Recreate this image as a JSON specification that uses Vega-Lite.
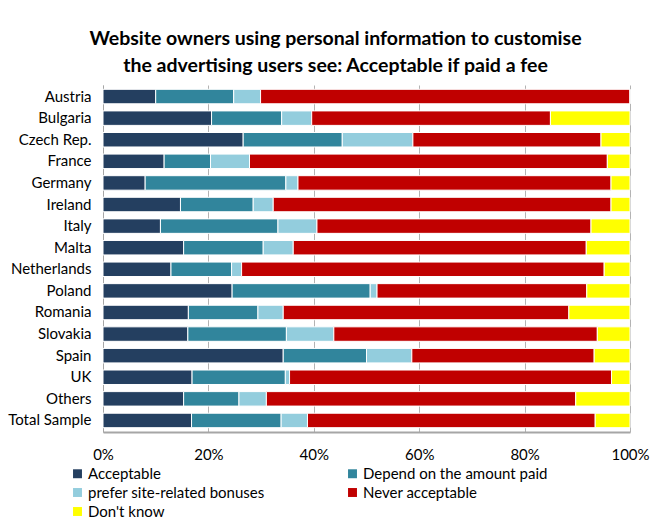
{
  "$schema": "https://vega.github.io/schema/vega-lite/v6.json",
  "width": 527,
  "height": 347,
  "autosize": {"type": "none"},
  "padding": {"left": 103, "top": 85, "right": 33, "bottom": 86},
  "background": "white",
  "title": {
    "text": ["Website owners using personal information to customise", "the advertising users see: Acceptable if paid a fee"],
    "font": "Lato, sans-serif",
    "fontSize": 19.5,
    "fontWeight": "bold",
    "color": "#000000",
    "anchor": "middle",
    "frame": "group",
    "dx": -31,
    "offset": 9,
    "lineHeight": 27
  },
  "config": {
    "view": {"stroke": null},
    "font": "Lato, sans-serif"
  },
  "data": {
    "values": [
      {"c": "Austria", "r": "Acceptable", "o": 1, "v": 10.0},
      {"c": "Austria", "r": "Depend on the amount paid", "o": 2, "v": 14.8},
      {"c": "Austria", "r": "prefer site-related bonuses", "o": 3, "v": 5.1},
      {"c": "Austria", "r": "Never acceptable", "o": 4, "v": 70.1},
      {"c": "Austria", "r": "Don't know", "o": 5, "v": 0},
      {"c": "Bulgaria", "r": "Acceptable", "o": 1, "v": 20.6},
      {"c": "Bulgaria", "r": "Depend on the amount paid", "o": 2, "v": 13.3},
      {"c": "Bulgaria", "r": "prefer site-related bonuses", "o": 3, "v": 5.7},
      {"c": "Bulgaria", "r": "Never acceptable", "o": 4, "v": 45.3},
      {"c": "Bulgaria", "r": "Don't know", "o": 5, "v": 15.1},
      {"c": "Czech Rep.", "r": "Acceptable", "o": 1, "v": 26.6},
      {"c": "Czech Rep.", "r": "Depend on the amount paid", "o": 2, "v": 18.8},
      {"c": "Czech Rep.", "r": "prefer site-related bonuses", "o": 3, "v": 13.4},
      {"c": "Czech Rep.", "r": "Never acceptable", "o": 4, "v": 35.7},
      {"c": "Czech Rep.", "r": "Don't know", "o": 5, "v": 5.5},
      {"c": "France", "r": "Acceptable", "o": 1, "v": 11.6},
      {"c": "France", "r": "Depend on the amount paid", "o": 2, "v": 8.8},
      {"c": "France", "r": "prefer site-related bonuses", "o": 3, "v": 7.4},
      {"c": "France", "r": "Never acceptable", "o": 4, "v": 67.9},
      {"c": "France", "r": "Don't know", "o": 5, "v": 4.3},
      {"c": "Germany", "r": "Acceptable", "o": 1, "v": 8.0},
      {"c": "Germany", "r": "Depend on the amount paid", "o": 2, "v": 26.7},
      {"c": "Germany", "r": "prefer site-related bonuses", "o": 3, "v": 2.3},
      {"c": "Germany", "r": "Never acceptable", "o": 4, "v": 59.4},
      {"c": "Germany", "r": "Don't know", "o": 5, "v": 3.6},
      {"c": "Ireland", "r": "Acceptable", "o": 1, "v": 14.7},
      {"c": "Ireland", "r": "Depend on the amount paid", "o": 2, "v": 13.8},
      {"c": "Ireland", "r": "prefer site-related bonuses", "o": 3, "v": 3.8},
      {"c": "Ireland", "r": "Never acceptable", "o": 4, "v": 64.1},
      {"c": "Ireland", "r": "Don't know", "o": 5, "v": 3.6},
      {"c": "Italy", "r": "Acceptable", "o": 1, "v": 10.9},
      {"c": "Italy", "r": "Depend on the amount paid", "o": 2, "v": 22.3},
      {"c": "Italy", "r": "prefer site-related bonuses", "o": 3, "v": 7.4},
      {"c": "Italy", "r": "Never acceptable", "o": 4, "v": 52.0},
      {"c": "Italy", "r": "Don't know", "o": 5, "v": 7.4},
      {"c": "Malta", "r": "Acceptable", "o": 1, "v": 15.3},
      {"c": "Malta", "r": "Depend on the amount paid", "o": 2, "v": 15.1},
      {"c": "Malta", "r": "prefer site-related bonuses", "o": 3, "v": 5.7},
      {"c": "Malta", "r": "Never acceptable", "o": 4, "v": 55.6},
      {"c": "Malta", "r": "Don't know", "o": 5, "v": 8.3},
      {"c": "Netherlands", "r": "Acceptable", "o": 1, "v": 12.9},
      {"c": "Netherlands", "r": "Depend on the amount paid", "o": 2, "v": 11.5},
      {"c": "Netherlands", "r": "prefer site-related bonuses", "o": 3, "v": 1.9},
      {"c": "Netherlands", "r": "Never acceptable", "o": 4, "v": 68.8},
      {"c": "Netherlands", "r": "Don't know", "o": 5, "v": 4.9},
      {"c": "Poland", "r": "Acceptable", "o": 1, "v": 24.5},
      {"c": "Poland", "r": "Depend on the amount paid", "o": 2, "v": 26.2},
      {"c": "Poland", "r": "prefer site-related bonuses", "o": 3, "v": 1.3},
      {"c": "Poland", "r": "Never acceptable", "o": 4, "v": 39.8},
      {"c": "Poland", "r": "Don't know", "o": 5, "v": 8.2},
      {"c": "Romania", "r": "Acceptable", "o": 1, "v": 16.2},
      {"c": "Romania", "r": "Depend on the amount paid", "o": 2, "v": 13.2},
      {"c": "Romania", "r": "prefer site-related bonuses", "o": 3, "v": 4.8},
      {"c": "Romania", "r": "Never acceptable", "o": 4, "v": 54.2},
      {"c": "Romania", "r": "Don't know", "o": 5, "v": 11.6},
      {"c": "Slovakia", "r": "Acceptable", "o": 1, "v": 16.1},
      {"c": "Slovakia", "r": "Depend on the amount paid", "o": 2, "v": 18.7},
      {"c": "Slovakia", "r": "prefer site-related bonuses", "o": 3, "v": 9.0},
      {"c": "Slovakia", "r": "Never acceptable", "o": 4, "v": 50.0},
      {"c": "Slovakia", "r": "Don't know", "o": 5, "v": 6.2},
      {"c": "Spain", "r": "Acceptable", "o": 1, "v": 34.2},
      {"c": "Spain", "r": "Depend on the amount paid", "o": 2, "v": 15.8},
      {"c": "Spain", "r": "prefer site-related bonuses", "o": 3, "v": 8.6},
      {"c": "Spain", "r": "Never acceptable", "o": 4, "v": 34.6},
      {"c": "Spain", "r": "Don't know", "o": 5, "v": 6.8},
      {"c": "UK", "r": "Acceptable", "o": 1, "v": 16.9},
      {"c": "UK", "r": "Depend on the amount paid", "o": 2, "v": 17.7},
      {"c": "UK", "r": "prefer site-related bonuses", "o": 3, "v": 0.8},
      {"c": "UK", "r": "Never acceptable", "o": 4, "v": 61.1},
      {"c": "UK", "r": "Don't know", "o": 5, "v": 3.5},
      {"c": "Others", "r": "Acceptable", "o": 1, "v": 15.3},
      {"c": "Others", "r": "Depend on the amount paid", "o": 2, "v": 10.5},
      {"c": "Others", "r": "prefer site-related bonuses", "o": 3, "v": 5.2},
      {"c": "Others", "r": "Never acceptable", "o": 4, "v": 58.7},
      {"c": "Others", "r": "Don't know", "o": 5, "v": 10.3},
      {"c": "Total Sample", "r": "Acceptable", "o": 1, "v": 16.8},
      {"c": "Total Sample", "r": "Depend on the amount paid", "o": 2, "v": 17.0},
      {"c": "Total Sample", "r": "prefer site-related bonuses", "o": 3, "v": 5.0},
      {"c": "Total Sample", "r": "Never acceptable", "o": 4, "v": 54.6},
      {"c": "Total Sample", "r": "Don't know", "o": 5, "v": 6.6}
    ]
  },
  "mark": {"type": "bar", "stroke": "white", "strokeWidth": 1},
  "encoding": {
    "y": {
      "field": "c",
      "type": "nominal",
      "sort": null,
      "title": null,
      "scale": {"paddingInner": 0.33, "paddingOuter": 0.2},
      "axis": {
        "labelFontSize": 15,
        "labelColor": "#000000",
        "labelPadding": 12,
        "ticks": false,
        "domain": true,
        "domainColor": "#a6a6a6",
        "domainWidth": 1
      }
    },
    "x": {
      "field": "v",
      "type": "quantitative",
      "stack": "normalize",
      "title": null,
      "scale": {"domain": [0, 1]},
      "axis": {
        "format": "%",
        "values": [0, 0.2, 0.4, 0.6, 0.8, 1],
        "labelFontSize": 15,
        "labelColor": "#000000",
        "labelPadding": 15,
        "labelFlush": false,
        "ticks": false,
        "grid": true,
        "gridColor": "#b3b3b3",
        "gridWidth": 1,
        "domain": true,
        "domainColor": "#a6a6a6",
        "domainWidth": 2
      }
    },
    "order": {"field": "o", "type": "quantitative"},
    "color": {
      "field": "r",
      "type": "nominal",
      "sort": ["Acceptable", "Depend on the amount paid", "prefer site-related bonuses", "Never acceptable", "Don't know"],
      "scale": {
        "domain": ["Acceptable", "Depend on the amount paid", "prefer site-related bonuses", "Never acceptable", "Don't know"],
        "range": ["#243F60", "#31859C", "#93CDDD", "#C00000", "#FFFF00"]
      },
      "legend": {
        "title": null,
        "orient": "none",
        "legendX": -33,
        "legendY": 381,
        "direction": "horizontal",
        "columns": 2,
        "columnPadding": 80,
        "rowPadding": 3,
        "symbolType": "square",
        "symbolSize": 80,
        "symbolStrokeWidth": 0,
        "labelFontSize": 15,
        "labelColor": "#000000",
        "labelOffset": 3,
        "labelLimit": 300
      }
    }
  }
}
